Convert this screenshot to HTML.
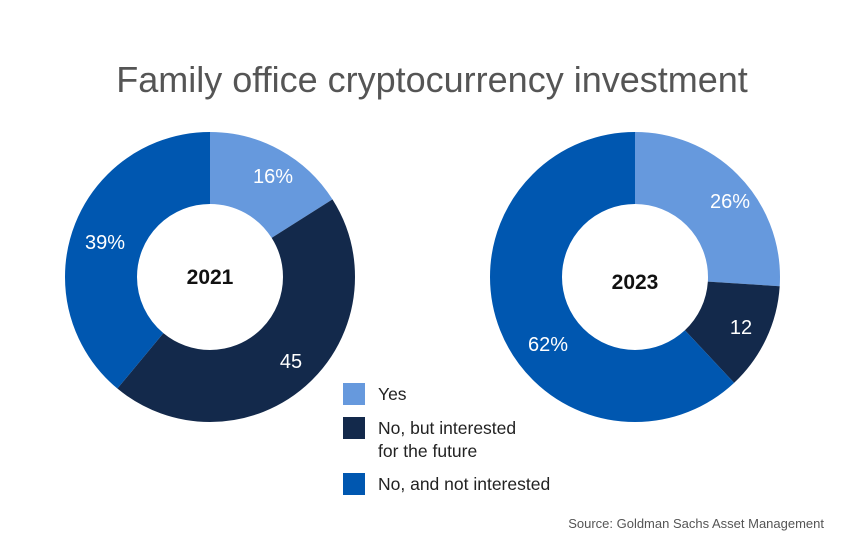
<!DOCTYPE html>
<html><head><meta charset="utf-8"><style>
body{margin:0;background:#fff;}
svg{display:block;font-family:"Liberation Sans",Arial,sans-serif;}
</style></head><body>
<svg width="850" height="550" viewBox="0 0 850 550">
<rect width="850" height="550" fill="#fff"/>
<text x="432" y="92" text-anchor="middle" font-size="36" fill="#555">Family office cryptocurrency investment</text>
<g transform="rotate(-90 210 277)" fill="none" stroke-width="72">
<circle cx="210" cy="277" r="109" stroke="#6699dd" stroke-dasharray="109.6 684.9" stroke-dashoffset="0"/>
<circle cx="210" cy="277" r="109" stroke="#13294b" stroke-dasharray="308.2 684.9" stroke-dashoffset="-109.6"/>
<circle cx="210" cy="277" r="109" stroke="#0057b0" stroke-dasharray="267.1 684.9" stroke-dashoffset="-417.8"/>
</g>
<g transform="rotate(-90 635 277)" fill="none" stroke-width="72">
<circle cx="635" cy="277" r="109" stroke="#6699dd" stroke-dasharray="178.1 684.9" stroke-dashoffset="0"/>
<circle cx="635" cy="277" r="109" stroke="#13294b" stroke-dasharray="82.2 684.9" stroke-dashoffset="-178.1"/>
<circle cx="635" cy="277" r="109" stroke="#0057b0" stroke-dasharray="424.6 684.9" stroke-dashoffset="-260.3"/>
</g>
<g fill="#fff" font-size="20">
<text x="273" y="183" text-anchor="middle">16%</text>
<text x="291" y="368" text-anchor="middle">45</text>
<text x="105" y="249" text-anchor="middle">39%</text>
<text x="730" y="208" text-anchor="middle">26%</text>
<text x="741" y="334" text-anchor="middle">12</text>
<text x="548" y="351" text-anchor="middle">62%</text>
</g>
<text x="210" y="284" text-anchor="middle" font-size="21" font-weight="bold" fill="#111">2021</text>
<text x="635" y="289" text-anchor="middle" font-size="21" font-weight="bold" fill="#111">2023</text>
<rect x="343" y="383" width="22" height="22" fill="#6699dd"/>
<rect x="343" y="417" width="22" height="22" fill="#13294b"/>
<rect x="343" y="473" width="22" height="22" fill="#0057b0"/>
<g font-size="17.5" fill="#222">
<text x="378" y="400">Yes</text>
<text x="378" y="434">No, but interested</text>
<text x="378" y="457">for the future</text>
<text x="378" y="490">No, and not interested</text>
</g>
<text x="824" y="528" text-anchor="end" font-size="13" fill="#555">Source: Goldman Sachs Asset Management</text>
</svg>
</body></html>
